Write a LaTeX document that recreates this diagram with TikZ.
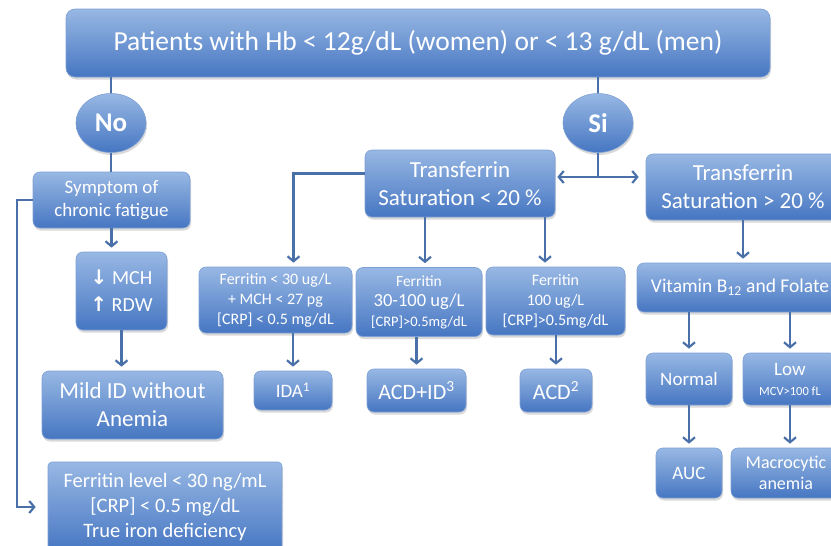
\documentclass[tikz,border=0pt]{standalone}
\usepackage{fontspec}
\setmainfont{Carlito}
\newfontfamily\symfont{DejaVu Sans}
\usepackage{xcolor}
\usetikzlibrary{arrows.meta,shadows,shapes.geometric,calc}
\definecolor{boxtop}{RGB}{152,184,228}
\definecolor{boxbot}{RGB}{70,118,194}
\definecolor{boxedge}{RGB}{125,160,212}
\definecolor{lncol}{RGB}{74,112,170}
\newcommand{\fsz}[2]{\fontsize{#1}{#2}\selectfont}

\begin{document}
\begin{tikzpicture}[x=1pt,y=-1pt,
  box/.style={draw=boxedge,line width=0.6pt,rounded corners=7pt,top color=boxtop,bottom color=boxbot,text=white,align=center,inner sep=1pt,drop shadow={opacity=0.3,shadow xshift=1pt,shadow yshift=-2.5pt}},
  ln/.style={draw=lncol,line width=2.2pt},
  arr/.style={ln,-{Straight Barb[length=5pt,width=12pt]},shorten >=4pt}]
\useasboundingbox (0,0) rectangle (831,546);
\node[box,minimum width=704pt,minimum height=68pt,rounded corners=9pt,font=\fsz{27.5}{32}] (pat) at (418,43) {Patients with Hb < 12g/dL (women) or < 13 g/dL (men)};
\node[box,ellipse,minimum width=70pt,minimum height=59pt,font=\fsz{27}{30}\bfseries] (no) at (111,123) {No};
\node[box,ellipse,minimum width=70pt,minimum height=59pt,font=\fsz{27}{30}\bfseries] (si) at (598,123) {Si};
\node[box,minimum width=157pt,minimum height=56pt,font=\fsz{19}{23}] (sym) at (111.5,200) {Symptom of\\chronic fatigue};
\node[box,minimum width=91pt,minimum height=78pt,font=\fsz{20}{27}] (mch) at (121.5,291) {{\symfont\bfseries ↓} MCH\\{\symfont\bfseries ↑} RDW};
\node[box,minimum width=181pt,minimum height=68pt,font=\fsz{23}{28}] (mild) at (132.5,405) {Mild ID without\\Anemia};
\node[box,minimum width=234pt,minimum height=90pt,rounded corners=4pt,font=\fsz{20.5}{25}] (fer) at (165,507) {Ferritin level < 30 ng/mL\\{}[CRP] < 0.5 mg/dL\\True iron deficiency};
\node[box,minimum width=190pt,minimum height=67pt,font=\fsz{23}{28}] (lt20) at (460,183.5) {Transferrin\\Saturation < 20 \%};
\node[box,minimum width=194pt,minimum height=66pt,font=\fsz{23}{28}] (gt20) at (743,187) {Transferrin\\Saturation > 20 \%};
\node[box,minimum width=153pt,minimum height=66pt,font=\fsz{16}{20}] (f30) at (275.5,300) {Ferritin < 30 ug/L\\+ MCH < 27 pg\\{}[CRP] < 0.5 mg/dL};
\node[box,minimum width=126pt,minimum height=69pt,font=\fsz{18.5}{20}] (f3100) at (419,302) {{\fsz{15.5}{20}Ferritin}\\30-100 ug/L\\{\fsz{14.5}{20}[CRP]>0.5mg/dL}};
\node[box,minimum width=139pt,minimum height=68pt,font=\fsz{16}{20}] (f100) at (555.5,301) {Ferritin\\100 ug/L\\{}[CRP]>0.5mg/dL};
\node[box,minimum width=206pt,minimum height=49pt,font=\fsz{19.5}{22}] (vit) at (740,287.5) {Vitamin B\textsubscript{12} and Folate};
\node[box,minimum width=86pt,minimum height=52pt,font=\fsz{19}{22}] (normal) at (689,379) {Normal};
\node[box,minimum width=94pt,minimum height=52pt,font=\fsz{19}{20}] (low) at (790,379) {Low\\{\fsz{12.5}{20}MCV>100 fL}};
\node[box,minimum width=66pt,minimum height=50pt,font=\fsz{19}{22}] (auc) at (689,473) {AUC};
\node[box,minimum width=110pt,minimum height=50pt,font=\fsz{18}{21}] (macro) at (786,473) {Macrocytic\\anemia};
\node[box,minimum width=78pt,minimum height=39pt,font=\fsz{19}{22}] (ida) at (293,390.5) {IDA\textsuperscript{1}};
\node[box,minimum width=99pt,minimum height=43pt,font=\fsz{22}{25}] (acdid) at (416.5,390.5) {ACD+ID\textsuperscript{3}};
\node[box,minimum width=72pt,minimum height=43pt,font=\fsz{22}{25}] (acd) at (556,390.5) {ACD\textsuperscript{2}};
\coordinate (sj) at (598,177);
\draw[ln] (pat.south -| no) -- (no);
\draw[ln] (pat.south -| si) -- (si);
\draw[ln] (no) -- (no |- sym.north);
\draw[ln] (si) -- (sj);
\draw[ln,{Straight Barb[length=5pt,width=12pt]}-{Straight Barb[length=5pt,width=12pt]},shorten <=2pt,shorten >=7pt] (lt20.east |- sj) -- (gt20.west |- sj);
\draw[arr] (sym.south) -- (sym.south |- mch.north);
\draw[arr] (mch.south) -- (mch.south |- mild.north);
\draw[arr,shorten >=12pt] (sym.west) -- ++(-16,0) |- (fer.west);
\draw[arr] ([yshift=10pt]lt20.west) -| ([xshift=18pt]f30.north);
\draw[arr] ([xshift=-35pt]lt20.south) -- ([xshift=-35pt]lt20.south |- f3100.north);
\draw[arr] ([xshift=85pt]lt20.south) -- ([xshift=85pt]lt20.south |- f100.north);
\draw[arr] (ida |- f30.south) -- (ida.north);
\draw[arr] (acdid |- f3100.south) -- (acdid.north);
\draw[arr] (acd |- f100.south) -- (acd.north);
\draw[arr] (gt20.south) -- (gt20.south |- vit.north);
\draw[arr] (normal |- vit.south) -- (normal.north);
\draw[arr] (low |- vit.south) -- (low.north);
\draw[arr] (normal.south) -- (auc.north);
\draw[arr] (low.south) -- (low.south |- macro.north);
\end{tikzpicture}
\end{document}
